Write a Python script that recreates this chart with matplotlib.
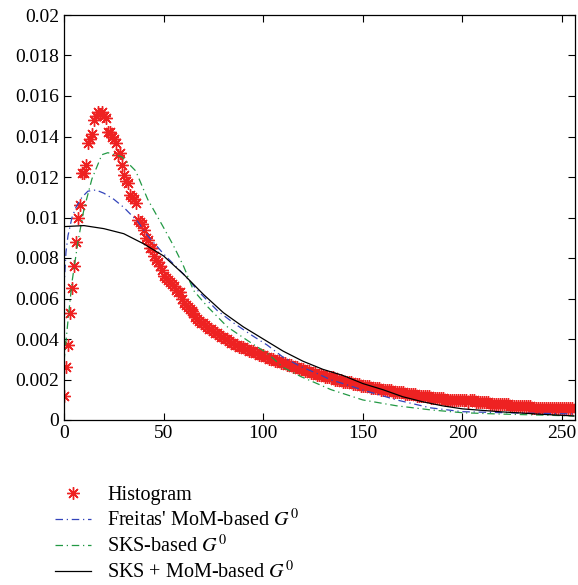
import matplotlib
matplotlib.use("Agg")
import matplotlib.pyplot as plt
import numpy as np

plt.rcParams['font.family'] = ['Liberation Serif', 'DejaVu Serif']
plt.rcParams['mathtext.fontset'] = 'stix'

# Histogram values read at each grey level 0..255
hist_vals = [
    0.0012, 0.0026, 0.0037, 0.0053, 0.0065, 0.0076, 0.0088, 0.0100, 0.0106, 0.0122,
    0.0122, 0.0126, 0.0137, 0.0139, 0.0141, 0.0148, 0.0150, 0.0152, 0.0151, 0.0152,
    0.0150, 0.0149, 0.0142, 0.0142, 0.0140, 0.0139, 0.0137, 0.0131, 0.0132, 0.0126,
    0.0121, 0.0118, 0.0117, 0.0111, 0.0110, 0.0109, 0.0107, 0.0099, 0.0098, 0.0097,
    0.0094, 0.0090, 0.0089, 0.0085, 0.0085, 0.0081, 0.0079, 0.0078, 0.0076, 0.0074,
    0.0071, 0.0070, 0.0069, 0.0068, 0.0067, 0.0066, 0.0064, 0.0063, 0.0063, 0.0060,
    0.0058, 0.0057, 0.0056, 0.0055, 0.0054, 0.0053, 0.0051, 0.0050, 0.0049, 0.0048,
    0.0048, 0.0047, 0.0046, 0.0045, 0.0045, 0.0044, 0.0043, 0.0043, 0.0042, 0.0041,
    0.0041, 0.0040, 0.0040, 0.0039, 0.0038, 0.0038, 0.0037, 0.0037, 0.0036, 0.0036,
    0.0036, 0.0035, 0.0035, 0.0034, 0.0034, 0.0034, 0.0033, 0.0033, 0.0032, 0.0032,
    0.0032, 0.0031, 0.0031, 0.0030, 0.0030, 0.0030, 0.0029, 0.0029, 0.0029, 0.0028,
    0.0028, 0.0028, 0.0027, 0.0027, 0.0027, 0.0026, 0.0026, 0.0026, 0.0025, 0.0025,
    0.0025, 0.0024, 0.0024, 0.0024, 0.0023, 0.0023, 0.0023, 0.0022, 0.0022, 0.0022,
    0.0022, 0.0021, 0.0021, 0.0021, 0.0021, 0.0021, 0.0020, 0.0020, 0.0020, 0.0020,
    0.0019, 0.0019, 0.0019, 0.0019, 0.0019, 0.0018, 0.0018, 0.0018, 0.0018, 0.0017,
    0.0017, 0.0017, 0.0017, 0.0017, 0.0016, 0.0016, 0.0016, 0.0016, 0.0016, 0.0015,
    0.0015, 0.0015, 0.0015, 0.0015, 0.0015, 0.0014, 0.0014, 0.0014, 0.0014, 0.0014,
    0.0014, 0.0013, 0.0013, 0.0013, 0.0013, 0.0013, 0.0013, 0.0012, 0.0012, 0.0012,
    0.0012, 0.0012, 0.0012, 0.0012, 0.0011, 0.0011, 0.0011, 0.0011, 0.0011, 0.0011,
    0.0011, 0.0010, 0.0010, 0.0010, 0.0010, 0.0010, 0.0010, 0.0010, 0.0010, 0.0010,
    0.0010, 0.0010, 0.0010, 0.0009, 0.0010, 0.0010, 0.0010, 0.0009, 0.0009, 0.0009,
    0.0009, 0.0009, 0.0009, 0.0009, 0.0008, 0.0008, 0.0008, 0.0008, 0.0008, 0.0008,
    0.0008, 0.0008, 0.0008, 0.0008, 0.0007, 0.0007, 0.0007, 0.0007, 0.0007, 0.0007,
    0.0007, 0.0007, 0.0007, 0.0007, 0.0007, 0.0006, 0.0006, 0.0006, 0.0006, 0.0006,
    0.0006, 0.0006, 0.0006, 0.0006, 0.0006, 0.0006, 0.0006, 0.0006, 0.0006, 0.0006,
    0.0006, 0.0006, 0.0006, 0.0006, 0.0006, 0.0006,
]
hist_x = list(range(len(hist_vals)))

# Fitted densities (read at sample grey levels)
freitas_x = [0, 1, 2, 4, 6, 9, 12, 16, 20, 25, 30, 37, 42, 50, 60, 68, 77, 85, 94, 102,
             110, 119, 127, 134, 140, 150, 167, 184, 200, 225, 256]
freitas_y = [0.0065, 0.0083, 0.0091, 0.0100, 0.0105, 0.0110, 0.0113, 0.01136, 0.0112, 0.0109,
             0.0105, 0.0098, 0.0091, 0.0082, 0.0072, 0.0063, 0.0054, 0.0048, 0.0042, 0.0037,
             0.0031, 0.00263, 0.0023, 0.00198, 0.0018, 0.00148, 0.00099, 0.0006, 0.00041,
             0.00035, 0.0003]

sks_x = [0, 2, 4, 7, 10, 14, 19, 22, 29, 36, 42, 50, 55, 60, 65, 72, 82, 94, 102, 110,
         119, 127, 134, 150, 167, 184, 200, 217, 256]
sks_y = [0.0029, 0.0049, 0.0068, 0.0088, 0.0104, 0.0119, 0.0131, 0.0132, 0.0130, 0.0123,
         0.0109, 0.0095, 0.0086, 0.0076, 0.0064, 0.0056, 0.0046, 0.0038, 0.0033, 0.0026,
         0.00214, 0.0018, 0.0015, 0.00099, 0.0007, 0.0005, 0.00036, 0.0003, 0.0002]

skm_x = [0, 10, 20, 30, 40, 50, 60, 70, 80, 90, 100, 110, 120, 130, 140, 150, 160, 170,
         180, 190, 200, 220, 240, 256]
skm_y = [0.00955, 0.0096, 0.00945, 0.0092, 0.0087, 0.0081, 0.0072, 0.0062, 0.0053, 0.0046,
         0.0040, 0.0034, 0.0029, 0.0025, 0.0022, 0.0018, 0.0015, 0.00115, 0.0009, 0.0007,
         0.00055, 0.0004, 0.00028, 0.0002]

labels = ['Histogram', "Freitas' MoM-based $G^0$", 'SKS-based $G^0$', 'SKS + MoM-based $G^0$']

fig = plt.figure(figsize=(5.78, 5.85), dpi=100)
ax = fig.add_axes([64/578, 1-420/585, (575-64)/578, (420-15)/585])

h1, = ax.plot(hist_x, hist_vals, linestyle='none', marker=(8, 2, 0), markersize=9,
              color='#ee2222', markeredgewidth=1.0, label=labels[0])
h2, = ax.plot(freitas_x, freitas_y, linestyle=(0, (6, 3, 1, 3)), color='#3344bb',
              linewidth=0.9, label=labels[1])
h3, = ax.plot(sks_x, sks_y, linestyle=(0, (6, 3, 1, 3)), color='#229944',
              linewidth=0.9, label=labels[2])
h4, = ax.plot(skm_x, skm_y, linestyle='-', color='black', linewidth=0.9, label=labels[3])

ax.set_xlim(0, 256.5)
ax.set_ylim(0, 0.02)
ax.set_xticks([0, 50, 100, 150, 200, 250])
ax.set_yticks(np.arange(0, 0.0201, 0.002))
ax.set_yticklabels(['0', '0.002', '0.004', '0.006', '0.008', '0.01', '0.012',
                    '0.014', '0.016', '0.018', '0.02'])
ax.tick_params(direction='in', top=True, right=True, labelsize=14, length=5, width=0.8)
for s in ax.spines.values():
    s.set_linewidth(0.9)

fig.legend(handles=[h1, h2, h3, h4], labels=labels, loc='upper left',
           bbox_to_anchor=(47/578, 1-478/585), frameon=False, fontsize=14.5,
           handlelength=1.8, handletextpad=0.8, labelspacing=0.2, borderaxespad=0)

fig.savefig('out.png', dpi=100)
